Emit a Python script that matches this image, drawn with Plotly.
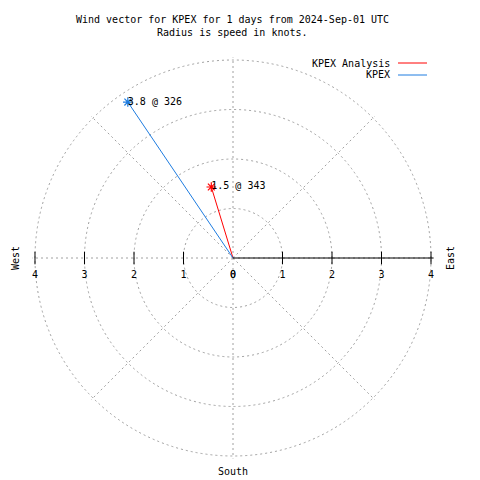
import plotly.graph_objects as go

# ---- data ----
series_names = ["KPEX Analysis", "KPEX"]
speeds_kt = [1.5, 3.8]
directions_deg = [343, 326]
series_colors = ["#ff0000", "#1e7ce0"]
radial_ticks = [0, 1, 2, 3, 4]
title_line1 = "Wind vector for KPEX for 1 days from 2024-Sep-01 UTC"
title_line2 = "Radius is speed in knots."

FONT = dict(family="DejaVu Sans Mono", size=10, color="black")
GRID = "#a0a0a0"
RMAX = 4.05
OFF = 8          # page body margin offset
W = H = 480 - OFF


def px(x):
    return (x - OFF) / W


def py(y):
    return 1 - (y - OFF) / H


fig = go.Figure()

# radial axis tick marks (both sides of the horizontal line)
for side in (90, 270):
    fig.add_trace(go.Scatterpolar(
        r=radial_ticks[1:], theta=[side] * (len(radial_ticks) - 1),
        mode="markers",
        marker=dict(symbol="line-ns", size=9, color="black",
                    line=dict(color="black", width=1)),
        showlegend=False, hoverinfo="skip"))
    fig.add_trace(go.Scatterpolar(
        r=radial_ticks, theta=[side] * len(radial_ticks),
        mode="markers+text", text=[str(t) for t in radial_ticks],
        marker=dict(size=19, color="rgba(0,0,0,0)"),
        textposition="bottom center", textfont=FONT,
        showlegend=False, hoverinfo="skip"))

# wind vectors
for name, spd, dirn, col in zip(series_names, speeds_kt, directions_deg, series_colors):
    fig.add_trace(go.Scatterpolar(
        r=[0, spd], theta=[dirn, dirn], mode="lines",
        line=dict(color=col, width=1), name=name, showlegend=False,
        hoverinfo="skip"))
    fig.add_trace(go.Scatterpolar(
        r=[spd], theta=[dirn], mode="markers",
        marker=dict(symbol="asterisk-open", size=8, color=col,
                    line=dict(color=col, width=1.2)),
        showlegend=False, hoverinfo="skip"))
    fig.add_trace(go.Scatterpolar(
        r=[spd], theta=[dirn], mode="text",
        text=[f"{spd} @ {dirn}"], textposition="middle right", textfont=FONT,
        showlegend=False, hoverinfo="skip"))

half = 198 * RMAX / 4
cx, cy = 233, 258
fig.update_layout(
    width=W, height=H,
    margin=dict(l=0, r=0, t=0, b=0, autoexpand=False),
    paper_bgcolor="white", plot_bgcolor="white",
    font=FONT,
    showlegend=False,
    polar=dict(
        domain=dict(x=[px(cx - half), px(cx + half)],
                    y=[py(cy + half), py(cy - half)]),
        bgcolor="white",
        radialaxis=dict(range=[0, RMAX], tickvals=radial_ticks[1:], showticklabels=False,
                        ticks="", showline=True, linecolor="black", linewidth=1,
                        angle=0, showgrid=True, gridcolor=GRID, gridwidth=1,
                        griddash="2px,3px"),
        angularaxis=dict(rotation=90, direction="clockwise", dtick=45,
                         showticklabels=False, ticks="", showline=False,
                         showgrid=True, gridcolor=GRID, gridwidth=1,
                         griddash="2px,3px"),
    ),
)

C = dict(xref="paper", yref="paper", showarrow=False, font=FONT,
         xanchor="center", yanchor="middle")
ann = [
    dict(x=px(232), y=py(19), text=title_line1, **C),
    dict(x=px(232), y=py(33), text=title_line2, **C),
    dict(x=px(15), y=py(258), text="West", textangle=-90, **C),
    dict(x=px(450), y=py(258), text="East", textangle=-90, **C),
    dict(x=px(233), y=py(471), text="South", **C),
]

shapes = []
for i, (name, col) in enumerate(zip(series_names, series_colors)):
    yy = py(63 + 12 * i)
    d = dict(C)
    d["xanchor"] = "right"
    ann.append(dict(x=px(392), y=yy, text=name, **d))
    shapes.append(dict(type="line", xref="paper", yref="paper",
                       x0=px(398), x1=px(427), y0=yy, y1=yy,
                       line=dict(color=col, width=1)))

fig.update_layout(annotations=ann, shapes=shapes)
fig.write_html("out.html")
